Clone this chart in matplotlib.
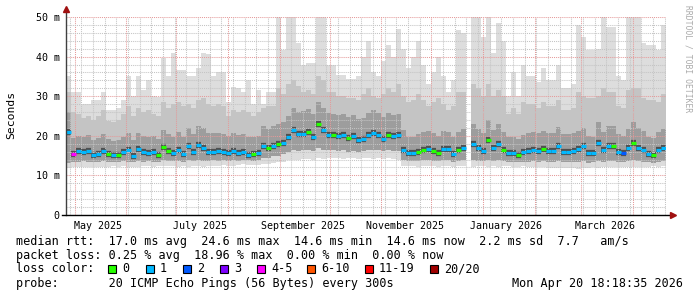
import numpy as np
import matplotlib
matplotlib.use("Agg")
import matplotlib.pyplot as plt
import matplotlib.dates as mdates
from matplotlib.patches import Rectangle
from matplotlib.ticker import MultipleLocator, NullFormatter
from datetime import datetime, timedelta

# ---- data: 3-day steps over the last 360 days ----
t_end = datetime(2026, 4, 20, 18, 18, 35)
t_start = t_end - timedelta(days=360)
step_days = 3
nan = np.nan

# median rtt (ms)
rtt_med = np.array([
    21.0, 15.5, 16.2, 16.0, 16.2, 15.2, 15.4, 16.2, 15.4, 15.2,
    15.2, 15.9, 16.4, 15.0, 16.6, 16.0, 15.6, 15.9, 15.2, 17.2,
    16.2, 15.6, 16.5, 15.4, 17.3, 16.0, 17.6, 17.0, 16.0, 16.0,
    16.2, 15.9, 15.6, 16.2, 15.7, 15.9, 15.2, 15.4, 15.6, 17.4,
    16.8, 17.4, 17.9, 18.3, 19.8, 21.4, 20.5, 20.5, 21.0, 19.7,
    23.0, 21.4, 20.2, 20.2, 19.9, 20.1, 19.4, 19.9, 19.0, 19.2,
    20.1, 20.8, 20.2, 19.3, 20.3, 19.9, 20.2, 16.5, 15.6, 15.6,
    16.0, 16.4, 16.6, 16.2, 15.7, 16.6, 16.6, 15.5, 16.5, 17.0,
    nan, 18.0, 17.0, 16.2, 19.0, 16.8, 18.0, 16.5, 15.6, 15.6,
    15.2, 16.0, 16.2, 16.5, 16.2, 16.6, 16.2, 16.2, 17.4, 16.0,
    16.0, 16.1, 16.6, 17.3, 15.6, 15.6, 18.3, 16.4, 17.5, 17.4,
    15.9, 15.6, 16.8, 18.3, 17.0, 16.5, 15.4, 15.2, 16.4, 16.8])

# lowest ping (bottom of the smoke)
rtt_min = np.array([
    11.8, 12.0, 12.2, 12.2, 12.0, 12.2, 12.2, 12.0, 12.1, 12.3,
    12.2, 12.3, 12.1, 12.0, 12.2, 12.3, 12.4, 12.2, 12.3, 12.4,
    12.3, 12.5, 12.2, 12.4, 12.2, 12.5, 12.3, 12.2, 12.4, 12.5,
    12.4, 12.6, 12.5, 12.4, 12.6, 12.8, 12.7, 12.6, 12.7, 12.9,
    13.0, 13.2, 13.4, 13.5, 13.8, 14.0, 13.9, 14.1, 14.2, 14.0,
    14.3, 14.2, 14.4, 14.3, 14.5, 14.2, 14.4, 14.3, 14.2, 14.4,
    14.3, 14.2, 14.5, 14.1, 14.3, 14.2, 14.0, 12.5, 12.3, 12.4,
    12.2, 12.4, 12.3, 12.5, 12.2, 12.4, 12.3, 12.2, 12.4, 12.3,
    nan, 12.2, 12.4, 12.3, 12.1, 12.3, 12.2, 12.4, 12.3, 12.2,
    12.1, 12.3, 12.2, 12.0, 12.1, 12.2, 11.9, 11.8, 11.9, 11.8,
    11.9, 11.8, 11.7, 11.8, 11.9, 12.0, 11.9, 12.1, 12.0, 12.1,
    12.2, 12.0, 12.1, 12.2, 12.0, 12.1, 12.2, 12.3, 12.2, 12.3])

# lower edge of the dense part
rtt_q1 = np.array([
    13.2, 13.4, 13.5, 13.6, 13.4, 13.5, 13.4, 13.6, 13.5, 13.4,
    13.5, 13.6, 13.5, 13.3, 13.6, 13.5, 13.7, 13.5, 13.4, 13.8,
    13.6, 13.7, 13.6, 13.5, 13.8, 13.6, 13.9, 13.7, 13.6, 13.8,
    13.7, 13.8, 13.6, 13.8, 13.7, 13.9, 13.8, 13.7, 13.9, 14.4,
    14.5, 14.8, 15.0, 15.3, 15.8, 16.4, 16.2, 16.3, 16.5, 16.2,
    16.8, 16.5, 16.4, 16.3, 16.2, 16.4, 16.0, 16.2, 16.0, 16.1,
    16.3, 16.5, 16.4, 16.1, 16.3, 16.2, 16.2, 14.0, 13.6, 13.6,
    13.7, 13.8, 13.8, 13.7, 13.6, 13.8, 13.8, 13.5, 13.7, 13.8,
    nan, 13.9, 13.7, 13.6, 13.9, 13.7, 13.8, 13.6, 13.4, 13.4,
    13.3, 13.5, 13.5, 13.6, 13.5, 13.6, 13.4, 13.4, 13.6, 13.3,
    13.3, 13.4, 13.5, 13.6, 13.2, 13.3, 13.7, 13.5, 13.6, 13.6,
    13.4, 13.3, 13.6, 13.8, 13.6, 13.5, 13.3, 13.2, 13.5, 13.6])

# upper edge of the dense part
rtt_q3 = np.array([
    26.0, 19.5, 20.0, 19.8, 20.2, 19.0, 19.4, 20.5, 19.2, 18.8,
    19.0, 19.8, 20.6, 19.0, 20.8, 20.0, 19.6, 20.0, 19.2, 21.5,
    20.5, 19.8, 21.0, 19.6, 22.0, 20.4, 22.4, 22.0, 20.6, 20.8,
    20.8, 20.4, 20.0, 20.8, 20.2, 20.4, 19.6, 19.8, 20.0, 22.4,
    21.8, 22.6, 23.0, 23.6, 25.0, 27.0, 26.0, 26.2, 26.8, 25.4,
    28.5, 27.0, 25.8, 25.6, 25.2, 25.6, 24.8, 25.2, 24.2, 24.6,
    25.8, 26.4, 25.8, 24.8, 25.8, 25.2, 25.6, 21.5, 19.8, 19.8,
    20.4, 21.0, 21.2, 20.6, 20.0, 21.2, 21.0, 19.8, 21.0, 21.8,
    nan, 23.0, 21.8, 20.8, 24.0, 21.4, 23.0, 21.0, 19.8, 19.6,
    19.2, 20.2, 20.6, 21.0, 20.6, 21.2, 20.6, 20.6, 22.2, 20.4,
    20.4, 20.6, 21.2, 22.0, 20.0, 19.8, 23.4, 21.0, 22.6, 22.4,
    20.4, 20.0, 21.6, 23.4, 22.0, 21.2, 19.8, 19.4, 21.0, 21.6])

# upper edge of the medium smoke
rtt_hi = np.array([
    31.0, 26.0, 25.5, 24.5, 25.0, 24.0, 25.0, 26.5, 23.8, 23.5,
    24.0, 25.5, 27.5, 25.0, 27.0, 26.0, 26.5, 25.5, 25.0, 28.5,
    27.0, 28.0, 28.5, 27.5, 28.0, 27.0, 29.0, 29.5, 28.0, 27.5,
    28.0, 27.5, 25.0, 26.5, 26.0, 26.5, 26.0, 25.0, 26.0, 27.0,
    27.5, 27.5, 32.0, 30.5, 33.0, 34.0, 32.5, 31.0, 31.5, 30.5,
    35.0, 34.0, 31.0, 31.0, 30.0, 30.0, 29.5, 29.5, 29.0, 30.5,
    32.0, 30.0, 29.5, 30.5, 32.0, 31.0, 33.0, 30.0, 28.5, 29.0,
    30.5, 29.0, 27.5, 28.5, 29.5, 28.0, 26.5, 27.5, 31.0, 31.0,
    nan, 33.0, 32.0, 30.0, 33.0, 30.0, 31.5, 30.0, 25.5, 27.0,
    25.5, 28.5, 28.0, 28.0, 27.0, 28.5, 27.5, 27.5, 29.0, 26.5,
    26.5, 27.0, 31.0, 30.0, 29.5, 29.5, 30.0, 32.0, 31.0, 31.0,
    27.5, 27.0, 31.5, 32.0, 32.0, 29.5, 29.0, 29.0, 28.5, 30.5])

# highest ping (top of the light smoke)
rtt_max = np.array([
    35.0, 31.0, 31.0, 28.0, 28.0, 29.0, 29.0, 31.0, 26.5, 26.5,
    27.0, 29.0, 35.0, 30.0, 35.0, 31.6, 34.0, 30.0, 29.8, 39.6,
    35.0, 41.0, 36.6, 36.6, 35.0, 35.0, 37.0, 40.9, 40.6, 35.0,
    36.0, 36.0, 28.5, 32.3, 32.0, 31.0, 34.0, 28.0, 31.6, 28.0,
    31.0, 31.0, 52.0, 41.7, 52.0, 52.0, 43.4, 38.0, 38.4, 38.4,
    52.0, 52.0, 38.0, 38.0, 35.4, 35.4, 34.3, 34.3, 35.0, 40.0,
    44.0, 36.0, 35.0, 39.0, 43.0, 40.0, 47.0, 42.0, 37.0, 40.0,
    44.0, 38.0, 33.0, 36.0, 40.0, 35.0, 31.0, 34.0, 46.7, 46.0,
    nan, 52.0, 52.0, 45.0, 52.0, 41.0, 48.4, 44.0, 30.0, 36.0,
    30.0, 38.0, 35.0, 35.0, 33.6, 37.0, 34.0, 34.0, 38.0, 32.0,
    32.0, 33.0, 48.0, 45.0, 41.7, 41.7, 42.0, 52.0, 47.5, 47.5,
    35.0, 34.0, 52.0, 52.0, 52.0, 43.4, 43.0, 43.0, 41.7, 48.0])

# lost pings (of 20) per step
loss = np.ones(len(rtt_med), dtype=int)
loss[[8, 10, 18, 19, 20, 37, 40, 42, 48, 50, 53, 56, 64, 70, 71, 73,
      74, 78, 84, 87, 90, 95, 109, 113, 117]] = 0
loss[1] = 4
loss[111] = 2

# loss legend
loss_labels = ['0', '1', '2', '3', '4-5', '6-10', '11-19', '20/20']
loss_upper = [0, 1, 2, 3, 5, 10, 19, 20]
loss_colors = ['#26ff00', '#00b8ff', '#0059ff', '#7e00ff', '#ff00ff',
               '#ff5500', '#ff0000', '#a00000']

# x-axis labels
xlabel_dates = [datetime(2025, 5, 15), datetime(2025, 7, 15), datetime(2025, 9, 15),
                datetime(2025, 11, 15), datetime(2026, 1, 15), datetime(2026, 3, 15)]
xlabel_text = ['May 2025', 'July 2025', 'September 2025', 'November 2025',
               'January 2026', 'March 2026']
ytick_vals = [0, 10, 20, 30, 40, 50]
ytick_text = ['0', '10 m', '20 m', '30 m', '40 m', '50 m']

# ---- figure ----
W, H = 697, 297
mono = 'DejaVu Sans Mono'
fig = plt.figure(figsize=(W / 100, H / 100), dpi=100)
ax = fig.add_axes([66 / W, 1 - 215 / H, 600 / W, 198 / H])

x = mdates.date2num(t_start) + step_days * np.arange(len(rtt_med))

# smoke, light to dark
ax.bar(x, rtt_max - rtt_min, bottom=rtt_min, width=step_days, align='edge',
       color='#dddddd', linewidth=0, zorder=1.0)
ax.bar(x, rtt_hi - rtt_q1, bottom=rtt_q1, width=step_days, align='edge',
       color='#c4c4c4', linewidth=0, zorder=1.1)
ax.bar(x, rtt_q3 - rtt_q1, bottom=rtt_q1, width=step_days, align='edge',
       color='#9d9d9d', linewidth=0, zorder=1.2)
ax.hlines(rtt_med, x, x + step_days, color='#505050', lw=4.5, zorder=2)

med_cols = [loss_colors[np.searchsorted(loss_upper, l)] for l in loss]
ax.hlines(rtt_med, x, x + step_days, colors=med_cols, lw=2.3, zorder=3)

ax.set_xlim(mdates.date2num(t_start), mdates.date2num(t_end))
ax.set_ylim(0, 50)

# grid
ax.xaxis.set_major_locator(mdates.MonthLocator())
ax.xaxis.set_minor_locator(mdates.WeekdayLocator(byweekday=mdates.MO))
ax.xaxis.set_major_formatter(NullFormatter())
ax.xaxis.set_minor_formatter(NullFormatter())
ax.set_yticks(ytick_vals)
ax.set_yticklabels(ytick_text, family=mono, fontsize=7.2)
ax.yaxis.set_minor_locator(MultipleLocator(2))
ax.tick_params(which='both', length=0)
ax.tick_params(axis='y', pad=4.5)
ax.set_axisbelow(False)
ax.grid(which='minor', color='#c4c4c4', linestyle=(0, (1, 1)), linewidth=0.75)
ax.grid(which='major', color='#e59a9a', linestyle=(0, (1, 1)), linewidth=0.75)

for d, s in zip(xlabel_dates, xlabel_text):
    ax.text(mdates.date2num(d), -0.03, s, transform=ax.get_xaxis_transform(),
            ha='center', va='top', family=mono, fontsize=7.2)

for sp in ax.spines.values():
    sp.set_visible(False)
ax.plot([0, 0], [0, 1.035], transform=ax.transAxes, color='#404040', lw=1, clip_on=False, zorder=6)
ax.plot([-0.006, 1.008], [0, 0], transform=ax.transAxes, color='black', lw=1, clip_on=False, zorder=6)
ax.plot([0], [1.04], marker='^', ms=4.5, color='#a01010', transform=ax.transAxes, clip_on=False, zorder=7)
ax.plot([1.011], [0], marker='>', ms=4.5, color='#a01010', transform=ax.transAxes, clip_on=False, zorder=7)

fig.text(11 / W, 1 - 115 / H, 'Seconds', rotation=90, ha='center', va='center',
         family=mono, fontsize=8.2)
fig.text(688 / W, 1 - 5 / H, 'RRDTOOL / TOBI OETIKER', rotation=270, ha='center', va='top',
         family=mono, fontsize=5.8, color='#aaaaaa')

# legend text
rows = [
    'median rtt:  17.0 ms avg  24.6 ms max  14.6 ms min  14.6 ms now  2.2 ms sd  7.7   am/s',
    'packet loss: 0.25 % avg  18.96 % max  0.00 % min  0.00 % now',
    'loss color:',
    'probe:       20 ICMP Echo Pings (56 Bytes) every 300s',
]
row_y = [241, 255, 269, 283]
for s, yy in zip(rows, row_y):
    fig.text(16 / W, 1 - yy / H, s, ha='left', va='center', family=mono, fontsize=8.5)
fig.text(683 / W, 1 - 283 / H, 'Mon Apr 20 18:18:35 2026', ha='right', va='center',
         family=mono, fontsize=8.5)

swatch_x = [108, 146, 183, 220, 257, 307, 365, 430]
for sx, lab, col in zip(swatch_x, loss_labels, loss_colors):
    fig.patches.append(Rectangle((sx / W, 1 - 273 / H), 8 / W, 8 / H, transform=fig.transFigure,
                                 facecolor=col, edgecolor='black', linewidth=0.8))
    fig.text((sx + 14) / W, 1 - 269 / H, lab, ha='left', va='center', family=mono, fontsize=8.5)

fig.savefig('out.png', dpi=100, facecolor='white')
